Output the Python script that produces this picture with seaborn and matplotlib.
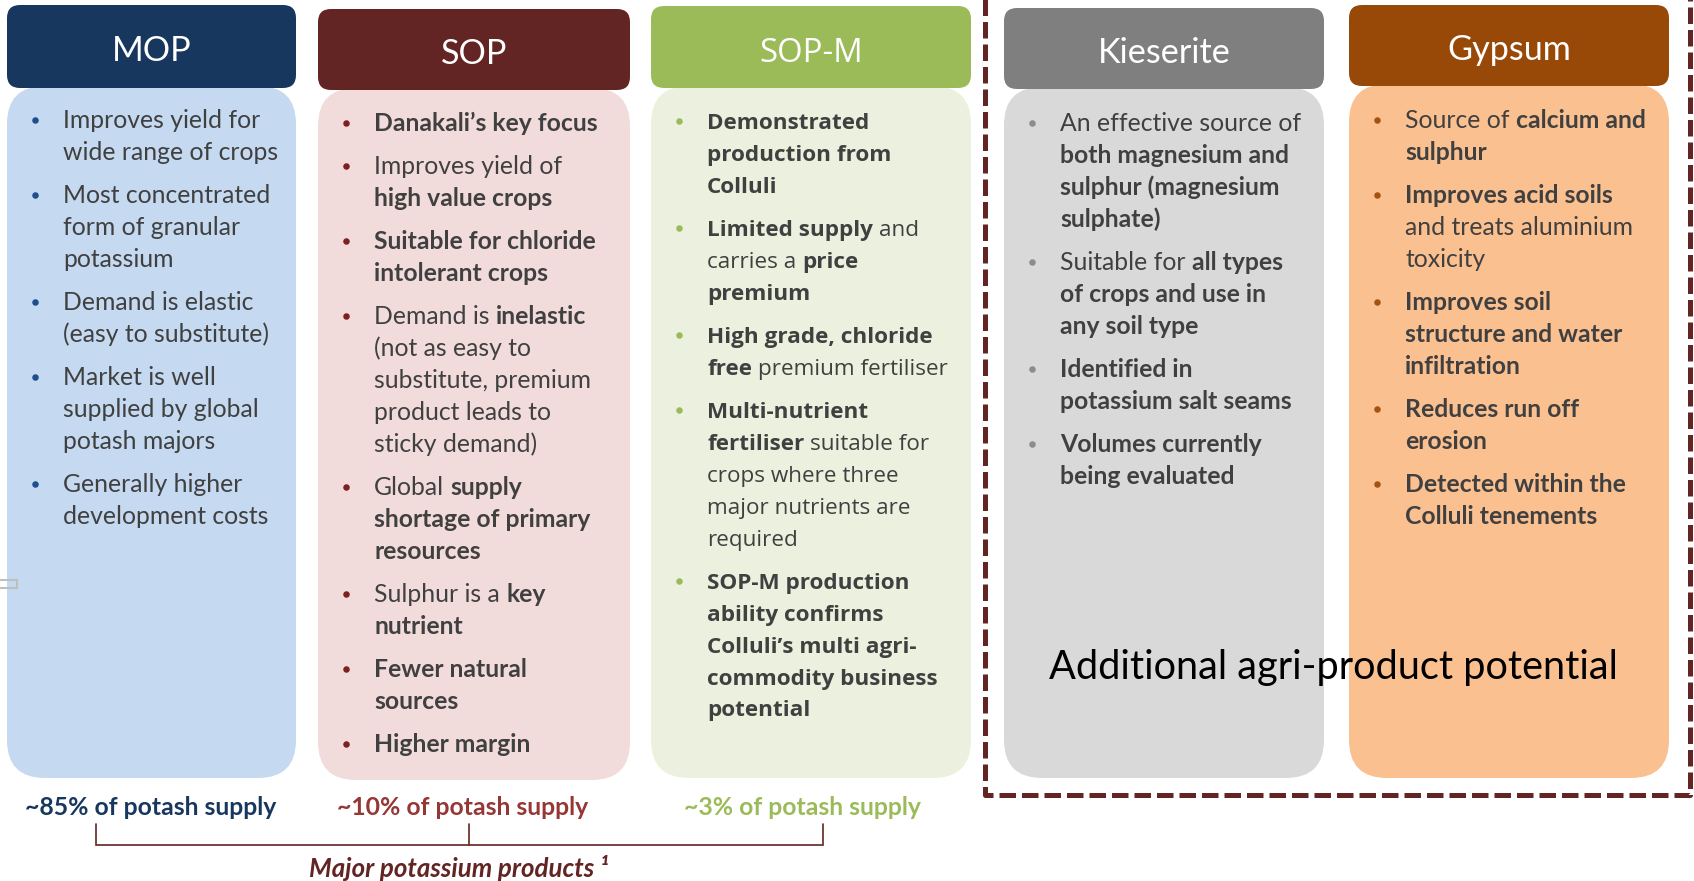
import matplotlib.pyplot as plt
from matplotlib.patches import FancyBboxPatch, Rectangle
import seaborn as sns

# ---- content ----
headers = ["MOP", "SOP", "SOP-M", "Kieserite", "Gypsum"]

# "**" toggles bold inside a line
mop_points = [
    ["Improves yield for", "wide range of crops"],
    ["Most concentrated", "form of granular", "potassium"],
    ["Demand is elastic", "(easy to substitute)"],
    ["Market is well", "supplied by global", "potash majors"],
    ["Generally higher", "development costs"],
]
sop_points = [
    ["**Danakali’s key focus**"],
    ["Improves yield of", "**high value crops**"],
    ["**Suitable for chloride**", "**intolerant crops**"],
    ["Demand is **inelastic**", "(not as easy to", "substitute, premium",
     "product leads to", "sticky demand)"],
    ["Global **supply**", "**shortage of primary**", "**resources**"],
    ["Sulphur is a **key**", "**nutrient**"],
    ["**Fewer natural**", "**sources**"],
    ["**Higher margin**"],
]
sopm_points = [
    ["**Demonstrated**", "**production from**", "**Colluli**"],
    ["**Limited supply** and", "carries a **price**", "**premium**"],
    ["**High grade, chloride**", "**free** premium fertiliser"],
    ["**Multi-nutrient**", "**fertiliser** suitable for", "crops where three",
     "major nutrients are", "required"],
    ["**SOP-M production**", "**ability confirms**", "**Colluli’s multi agri-**",
     "**commodity business**", "**potential**"],
]
kieserite_points = [
    ["An effective source of", "**both magnesium and**", "**sulphur (magnesium**",
     "**sulphate)**"],
    ["Suitable for **all types**", "**of crops and use in**", "**any soil type**"],
    ["**Identified in**", "**potassium salt seams**"],
    ["**Volumes currently**", "**being evaluated**"],
]
gypsum_points = [
    ["Source of **calcium and**", "**sulphur**"],
    ["**Improves acid soils**", "and treats aluminium", "toxicity"],
    ["**Improves soil**", "**structure and water**", "**infiltration**"],
    ["**Reduces run off**", "**erosion**"],
    ["**Detected within the**", "**Colluli tenements**"],
]
all_points = [mop_points, sop_points, sopm_points, kieserite_points, gypsum_points]

supply_labels = ["~85% of potash supply", "~10% of potash supply", "~3% of potash supply"]
bracket_label = "Major potassium products ¹"
box_label = "Additional agri-product potential"

# ---- colours ----
head_colors = ["#17375E", "#632523", "#9BBB59", "#7F7F7F", "#984807"]
body_colors = ["#C5D9F1", "#F2DCDB", "#EBF1DE", "#D9D9D9", "#FAC090"]
dot_colors = ["#1F4E8C", "#7B2121", "#9BBB59", "#8C8C8C", "#A65310"]
supply_colors = ["#17375E", "#953735", "#9BBB59"]
maroon = "#632523"
text_grey = "#404040"

# ---- layout, in pixels ----
W, H = 1694, 881
col_left = [7, 318, 651, 1004, 1349]
col_width = [289, 312, 320, 320, 320]
head_top = [5, 9, 6, 8, 5]
head_bot = [88, 90, 88, 89, 86]
body_bot = [778, 780, 778, 778, 778]
first_line = [121, 124, 122, 124, 121]
col_font = ["Lato", "Lato", "Open Sans", "Lato", "Lato"]
body_size = [17.8, 17.8, 16.2, 17.8, 17.8]
head_size = [24.7, 24.7, 23.7, 24.7, 24.7]
line_step = 31.9
para_step = 43.2
supply_x = [151, 463, 802]

sns.set_theme(style="white")
plt.rcParams["font.family"] = ["Lato", "DejaVu Sans"]

fig = plt.figure(figsize=(W / 100, H / 100), dpi=100)
ax = fig.add_axes([0, 0, 1, 1])
ax.set_xlim(0, W)
ax.set_ylim(H, 0)
ax.axis("off")
renderer = fig.canvas.get_renderer()


def width_of(s, **kw):
    t = ax.text(0, 0, s, **kw)
    w = t.get_window_extent(renderer).width
    t.remove()
    return w


def draw_line(x, y, line, family, size, color):
    parts = line.split("**")
    for i, part in enumerate(parts):
        if not part:
            continue
        kw = dict(family=family, size=size, weight="bold" if i % 2 else "normal")
        space = width_of("a a", **kw) - width_of("aa", **kw)
        if part.startswith(" "):
            x += space
        core = part.strip()
        if core:
            t = ax.text(x, y, core, ha="left", va="baseline", color=color, **kw)
            x += t.get_window_extent(renderer).width
        if part.endswith(" "):
            x += space


for i, name in enumerate(headers):
    x0, w = col_left[i], col_width[i]
    body = FancyBboxPatch((x0, head_bot[i] - 2), w, body_bot[i] - head_bot[i] + 2,
                          boxstyle="round,pad=0,rounding_size=38",
                          fc=body_colors[i], ec="none", zorder=1)
    ax.add_patch(body)
    head = FancyBboxPatch((x0, head_top[i]), w, head_bot[i] - head_top[i],
                          boxstyle="round,pad=0,rounding_size=13",
                          fc=head_colors[i], ec="none", zorder=2)
    ax.add_patch(head)
    hh = head_bot[i] - head_top[i]
    ax.text(x0 + w / 2, head_top[i] + 0.68 * hh, name, ha="center", va="baseline",
            color="white", family=col_font[i], size=head_size[i], zorder=3)

    y = first_line[i]
    for point in all_points[i]:
        ax.scatter([x0 + 28], [y - 1], s=22, color=dot_colors[i], zorder=3, linewidths=0)
        for k, line in enumerate(point):
            draw_line(x0 + 56, y + 7, line, col_font[i], body_size[i], text_grey)
            if k < len(point) - 1:
                y += line_step
        y += para_step

# supply shares under the potash columns
for lab, sx, c in zip(supply_labels, supply_x, supply_colors):
    ax.text(sx, 815, lab, ha="center", va="baseline", color=c,
            size=17.8, weight="bold", family="Lato")

# bracket
ax.plot([96, 96, 823, 823], [824, 845, 845, 824], color=maroon, lw=1.2,
        solid_joinstyle="miter")
ax.plot([469, 469], [824, 845], color=maroon, lw=1.2)
ax.text(459, 877, bracket_label, ha="center", va="baseline", color=maroon,
        size=18.6, weight="bold", style="italic", family="Lato")

# dashed frame around the other agri-products
ax.plot([985, 985, 1690, 1690], [-5, 795, 795, -5], color=maroon, lw=3.6,
        ls=(0, (3.3, 1.2)), zorder=4)
ax.text(1333, 679, box_label, ha="center", va="baseline", color="black",
        size=28.6, family="Lato", zorder=5)

# small stray marker on the left edge
ax.add_patch(Rectangle((-2, 580), 19, 8, fill=False, ec="#BFBFBF", lw=1.5))

fig.savefig("out.png", dpi=100)
